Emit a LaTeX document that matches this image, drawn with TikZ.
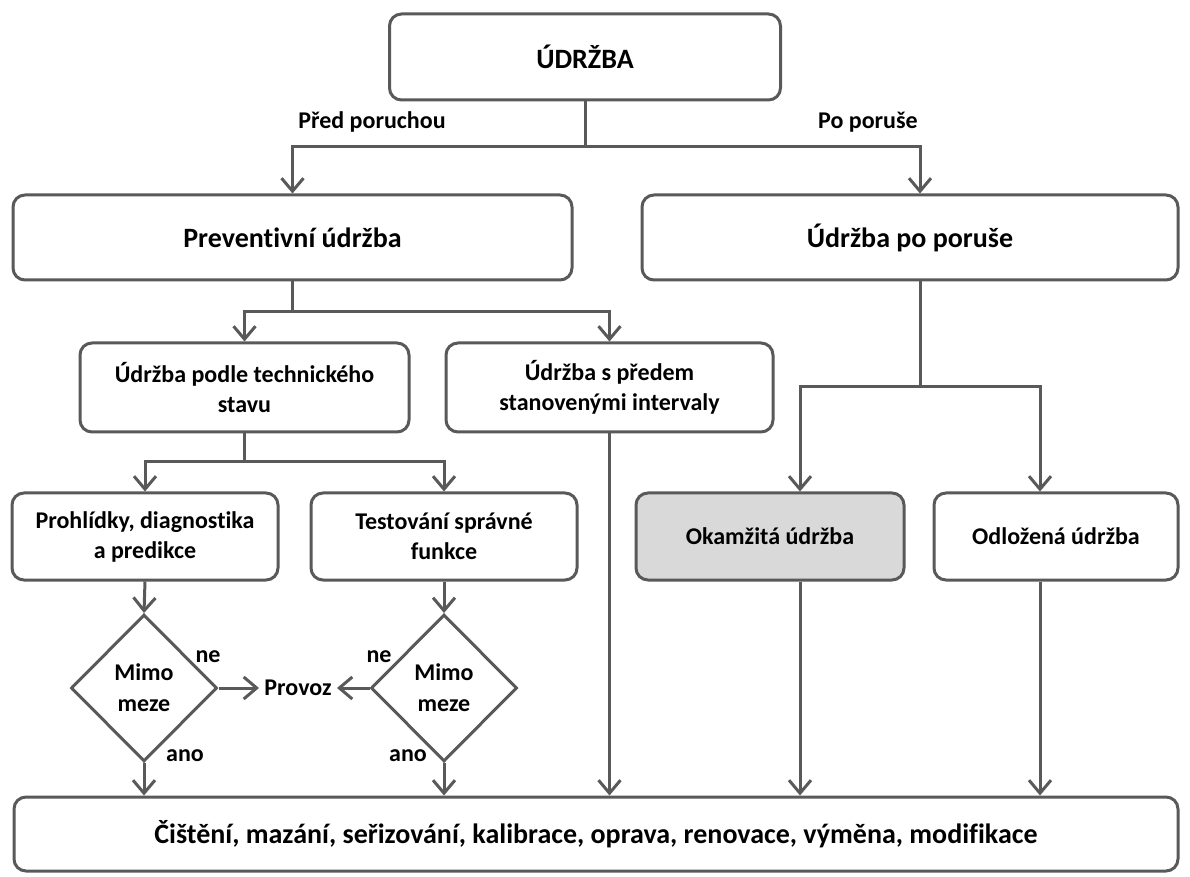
\documentclass[tikz,border=0pt]{standalone}
\usepackage{fontspec}
\setmainfont{Carlito}[Ligatures=NoCommon]
\usetikzlibrary{arrows.meta,shapes.geometric}
\definecolor{linka}{HTML}{595959}
\definecolor{vypln}{HTML}{D9D9D9}
\tikzset{
  blok/.style={draw=linka,line width=1.5pt,rounded corners=6pt,fill=white,
    align=center,inner sep=0pt,font=\bfseries\fontsize{12}{15}\selectfont},
  velky/.style={blok,font=\bfseries\fontsize{14}{17}\selectfont},
  rozhodnuti/.style={diamond,draw=linka,line width=1.5pt,align=center,inner sep=0pt,
    minimum width=73pt,minimum height=73.5pt,font=\bfseries\fontsize{12}{15.5}\selectfont},
  popis/.style={inner sep=0pt,font=\bfseries\fontsize{12}{15}\selectfont},
  cara/.style={draw=linka,line width=1.5pt},
  sipka/.style={cara,-{Straight Barb[length=6.5pt,width=11pt]}}
}
\begin{document}
\begin{tikzpicture}[x=0.5pt,y=-0.5pt]
  \useasboundingbox (0,0) rectangle (1190,877);
  % bloky
  \node[velky,minimum width=195.5pt,minimum height=43pt] (udrzba) at (585,57) {ÚDRŽBA};
  \node[velky,minimum width=279.5pt,minimum height=42.5pt] (prev) at (292.5,237.5) {Preventivní údržba};
  \node[velky,minimum width=268pt,minimum height=42.5pt] (porucha) at (910,237.5) {Údržba po poruše};
  \node[blok,minimum width=164.5pt,minimum height=44.5pt] (stav) at (244.5,387.5) {Údržba podle technického\\stavu};
  \node[blok,minimum width=163.5pt,minimum height=44.5pt] (interval) at (609.5,387.5) {Údržba s předem\\stanovenými intervaly};
  \node[blok,minimum width=133pt,minimum height=43.5pt] (prohlidky) at (145,536.5) {Prohlídky, diagnostika\\a predikce};
  \node[blok,minimum width=133pt,minimum height=43.5pt] (testovani) at (444,536.5) {Testování správné\\funkce};
  \node[blok,fill=vypln,minimum width=134pt,minimum height=43.5pt] (okamzita) at (770,536.5) {Okamžitá údržba};
  \node[blok,minimum width=122pt,minimum height=43.5pt] (odlozena) at (1056,536.5) {Odložená údržba};
  \node[rozhodnuti] (mez1) at (144,688) {Mimo\\meze};
  \node[rozhodnuti] (mez2) at (444,688) {Mimo\\meze};
  \node[popis,inner xsep=2.5pt] (provoz) at (298,688) {Provoz};
  \node[velky,minimum width=582pt,minimum height=37pt] (akce) at (596,834)
    {Čištění, mazání, seřizování, kalibrace, oprava, renovace, výměna, modifikace};
  % popisky
  \node[popis] (pred) at (372,122) {Před poruchou};
  \node[popis] (po) at (868,122) {Po poruše};
  \node[popis] (ne1) at (208,657) {ne};
  \node[popis] (ano1) at (185,756) {ano};
  \node[popis] (ne2) at (379,657) {ne};
  \node[popis] (ano2) at (408,756) {ano};
  % pomocne body
  \coordinate (pp) at ([xshift=5pt]porucha.north);
  \coordinate (ps) at ([xshift=5pt]porucha.south);
  \coordinate (on) at ([xshift=15pt]okamzita.north);
  \coordinate (os) at ([xshift=15pt]okamzita.south);
  \coordinate (dn) at ([xshift=-8pt]odlozena.north);
  \coordinate (ds) at ([xshift=-8pt]odlozena.south);
  % spojnice
  \draw[cara] (udrzba.south) -- (udrzba.south |- 0,147) coordinate (j1);
  \draw[sipka] (j1) -| (prev.north);
  \draw[sipka] (j1) -| (pp);
  \draw[cara] (prev.south) -- (prev.south |- 0,312) coordinate (j2);
  \draw[sipka] (j2) -| (stav.north);
  \draw[sipka] (j2) -| (interval.north);
  \draw[cara] (ps) -- (ps |- 0,387) coordinate (j3);
  \draw[sipka] (j3) -| (on);
  \draw[sipka] (j3) -| (dn);
  \draw[cara] (stav.south) -- (stav.south |- 0,462) coordinate (j4);
  \draw[sipka] (j4) -| (prohlidky.north);
  \draw[sipka] (j4) -| (testovani.north);
  \draw[sipka] (prohlidky.south) -- (mez1.north);
  \draw[sipka] (testovani.south) -- (mez2.north);
  \draw[sipka] (mez1.east) -- (provoz.west);
  \draw[sipka] (mez2.west) -- (provoz.east);
  \draw[sipka] (mez1.south) -- (mez1.south |- akce.north);
  \draw[sipka] (mez2.south) -- (mez2.south |- akce.north);
  \draw[sipka] (interval.south) -- (interval.south |- akce.north);
  \draw[sipka] (os) -- (os |- akce.north);
  \draw[sipka] (ds) -- (ds |- akce.north);
\end{tikzpicture}
\end{document}
